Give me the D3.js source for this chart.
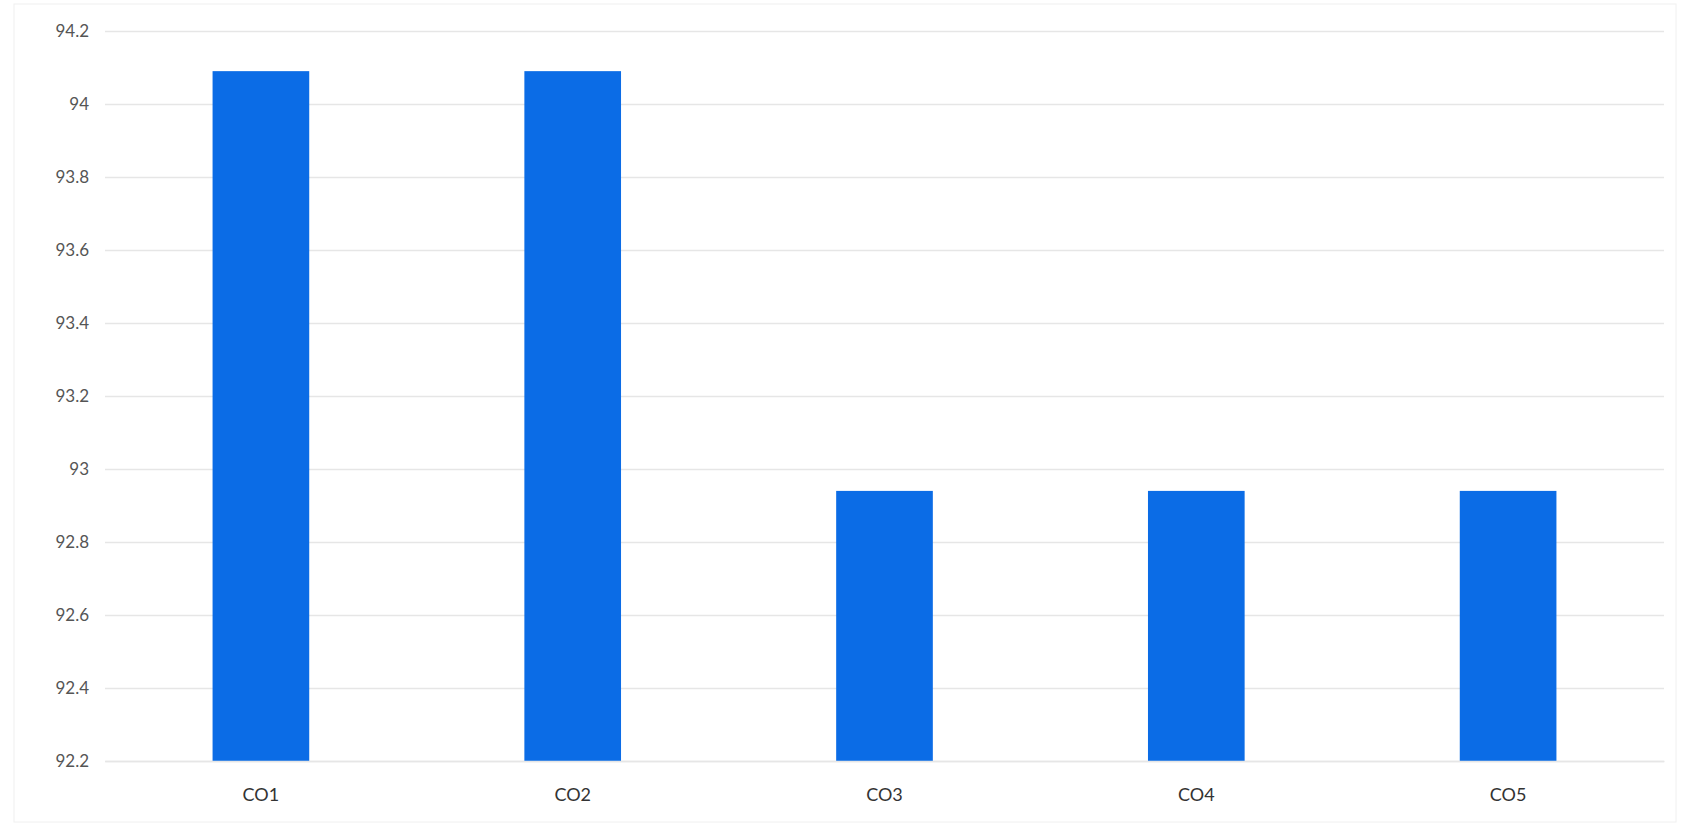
<!DOCTYPE html>
<html>
<head>
<meta charset="utf-8">
<script src="https://cdn.jsdelivr.net/npm/d3@7"></script>
<style>
  html, body { margin: 0; padding: 0; background: #ffffff; }
  svg { display: block; }
</style>
</head>
<body>
<svg id="chart" width="1686" height="827"></svg>
<script>
const categories = ["CO1", "CO2", "CO3", "CO4", "CO5"];
const values = [94.09, 94.09, 92.94, 92.94, 92.94];
const yTicks = [92.2, 92.4, 92.6, 92.8, 93, 93.2, 93.4, 93.6, 93.8, 94, 94.2];

const svg = d3.select("#chart");
const plotLeft = 105, plotRight = 1664, plotTop = 31, plotBottom = 761;

const x = d3.scaleBand().domain(categories).range([plotLeft, plotRight])
  .paddingInner(0.69).paddingOuter(0.345);
const y = d3.scaleLinear().domain([92.2, 94.2]).range([plotBottom, plotTop]);

// faint chart border
svg.append("rect").attr("x", 14).attr("y", 4).attr("width", 1662).attr("height", 818)
  .attr("fill", "none").attr("stroke", "#f0f0f0").attr("stroke-width", 1);

// gridlines
const yAxis = d3.axisLeft(y).tickValues(yTicks).tickSize(-(plotRight - plotLeft)).tickPadding(16)
  .tickFormat(d => d3.format("")(+d.toFixed(1)));
const gy = svg.append("g").attr("transform", `translate(${plotLeft},0)`).call(yAxis);
gy.select(".domain").remove();
gy.selectAll(".tick line").attr("stroke", "#e6e6e6").attr("stroke-width", 1.5);
gy.selectAll(".tick text")
  .attr("fill", "#555555")
  .style("font-family", "Lato, 'Open Sans', sans-serif")
  .style("font-size", "17px");

// bars
svg.append("g").selectAll("rect").data(categories).join("rect")
  .attr("x", d => x(d))
  .attr("width", x.bandwidth())
  .attr("y", (d, i) => y(values[i]))
  .attr("height", (d, i) => y(92.2) - y(values[i]))
  .attr("fill", "#0b6ce6");

// x axis labels
const xAxis = d3.axisBottom(x).tickSize(0).tickPadding(27);
const gx = svg.append("g").attr("transform", `translate(0,${plotBottom})`).call(xAxis);
gx.select(".domain").attr("stroke", "#e6e6e6").attr("stroke-width", 1.5);
gx.selectAll(".tick text")
  .attr("fill", "#333333")
  .style("font-family", "Lato, 'Open Sans', sans-serif")
  .style("font-size", "18px");
</script>
</body>
</html>
